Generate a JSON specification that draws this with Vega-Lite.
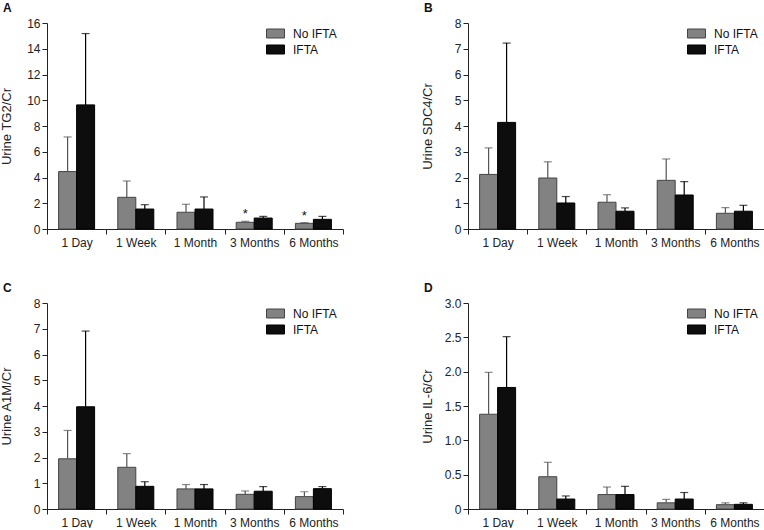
{
  "$schema": "https://vega.github.io/schema/vega-lite/v6.json",
  "padding": {"left": 0, "top": 2, "right": 0, "bottom": 0},
  "background": "white",
  "config": {
    "font": "Liberation Sans",
    "view": {"stroke": null},
    "axis": {"grid": false, "domainColor": "#222", "tickColor": "#222", "labelColor": "#222", "titleColor": "#222", "labelFont": "Liberation Sans", "titleFont": "Liberation Sans", "labelFontSize": 12, "titleFontSize": 13, "titleFontWeight": "normal"},
    "axisX": {"tickBand": "extent", "tickSize": 5, "labelPadding": 3, "labelAngle": 0, "title": null},
    "axisY": {"tickSize": 5, "labelPadding": 2, "titleX": -34},
    "legend": {"orient": "none", "legendX": 219, "legendY": 1, "title": null, "labelFontSize": 12, "labelColor": "#111", "symbolType": "M-1,-0.5H1V0.5H-1Z", "symbolSize": 324, "symbolStrokeWidth": 1, "labelOffset": 8, "rowPadding": -3, "padding": 0},
    "title": {"anchor": "start", "frame": "group", "dx": -44, "fontSize": 12, "fontWeight": "bold", "baseline": "top", "offset": 2, "color": "#111"}
  },
  "datasets": {
    "A": [
      {"time": "1 Day", "group": "No IFTA", "mean": 4.46, "upper": 7.15, "star": ""},
      {"time": "1 Day", "group": "IFTA", "mean": 9.64, "upper": 15.18, "star": ""},
      {"time": "1 Week", "group": "No IFTA", "mean": 2.46, "upper": 3.73, "star": ""},
      {"time": "1 Week", "group": "IFTA", "mean": 1.55, "upper": 1.89, "star": ""},
      {"time": "1 Month", "group": "No IFTA", "mean": 1.30, "upper": 1.92, "star": ""},
      {"time": "1 Month", "group": "IFTA", "mean": 1.55, "upper": 2.49, "star": ""},
      {"time": "3 Months", "group": "No IFTA", "mean": 0.52, "upper": 0.60, "star": "*"},
      {"time": "3 Months", "group": "IFTA", "mean": 0.85, "upper": 0.98, "star": ""},
      {"time": "6 Months", "group": "No IFTA", "mean": 0.44, "upper": 0.49, "star": "*"},
      {"time": "6 Months", "group": "IFTA", "mean": 0.75, "upper": 0.98, "star": ""}
    ],
    "B": [
      {"time": "1 Day", "group": "No IFTA", "mean": 2.12, "upper": 3.15},
      {"time": "1 Day", "group": "IFTA", "mean": 4.14, "upper": 7.22},
      {"time": "1 Week", "group": "No IFTA", "mean": 1.98, "upper": 2.61},
      {"time": "1 Week", "group": "IFTA", "mean": 1.01, "upper": 1.26},
      {"time": "1 Month", "group": "No IFTA", "mean": 1.04, "upper": 1.33},
      {"time": "1 Month", "group": "IFTA", "mean": 0.69, "upper": 0.82},
      {"time": "3 Months", "group": "No IFTA", "mean": 1.89, "upper": 2.72},
      {"time": "3 Months", "group": "IFTA", "mean": 1.32, "upper": 1.84},
      {"time": "6 Months", "group": "No IFTA", "mean": 0.61, "upper": 0.83},
      {"time": "6 Months", "group": "IFTA", "mean": 0.69, "upper": 0.92}
    ],
    "C": [
      {"time": "1 Day", "group": "No IFTA", "mean": 1.95, "upper": 3.05},
      {"time": "1 Day", "group": "IFTA", "mean": 3.97, "upper": 6.91},
      {"time": "1 Week", "group": "No IFTA", "mean": 1.62, "upper": 2.15},
      {"time": "1 Week", "group": "IFTA", "mean": 0.88, "upper": 1.06},
      {"time": "1 Month", "group": "No IFTA", "mean": 0.78, "upper": 0.95},
      {"time": "1 Month", "group": "IFTA", "mean": 0.78, "upper": 0.95},
      {"time": "3 Months", "group": "No IFTA", "mean": 0.57, "upper": 0.70},
      {"time": "3 Months", "group": "IFTA", "mean": 0.69, "upper": 0.87},
      {"time": "6 Months", "group": "No IFTA", "mean": 0.48, "upper": 0.67},
      {"time": "6 Months", "group": "IFTA", "mean": 0.79, "upper": 0.87}
    ],
    "D": [
      {"time": "1 Day", "group": "No IFTA", "mean": 1.38, "upper": 1.99},
      {"time": "1 Day", "group": "IFTA", "mean": 1.77, "upper": 2.51},
      {"time": "1 Week", "group": "No IFTA", "mean": 0.47, "upper": 0.68},
      {"time": "1 Week", "group": "IFTA", "mean": 0.145, "upper": 0.19},
      {"time": "1 Month", "group": "No IFTA", "mean": 0.21, "upper": 0.32},
      {"time": "1 Month", "group": "IFTA", "mean": 0.21, "upper": 0.33},
      {"time": "3 Months", "group": "No IFTA", "mean": 0.09, "upper": 0.14},
      {"time": "3 Months", "group": "IFTA", "mean": 0.145, "upper": 0.24},
      {"time": "6 Months", "group": "No IFTA", "mean": 0.063, "upper": 0.09},
      {"time": "6 Months", "group": "IFTA", "mean": 0.068, "upper": 0.09}
    ]
  },
  "columns": 2,
  "bounds": "flush",
  "spacing": {"column": 125, "row": 74},
  "resolve": {"legend": {"fill": "independent", "stroke": "independent"}, "scale": {"y": "independent"}},
  "concat": [
    {
      "data": {"name": "A"},
      "title": {"text": "A"},
      "width": 296, "height": 206,
      "encoding": {
        "x": {"field": "time", "type": "nominal", "sort": ["1 Day", "1 Week", "1 Month", "3 Months", "6 Months"], "scale": {"paddingInner": 0, "paddingOuter": 0}},
        "xOffset": {"field": "group", "type": "nominal", "sort": ["No IFTA", "IFTA"], "scale": {"paddingInner": 0, "paddingOuter": 0.644}}
      },
      "layer": [
        {"mark": {"type": "bar", "strokeWidth": 1}, "encoding": {"y": {"field": "mean", "type": "quantitative", "scale": {"domain": [0, 16]}, "axis": {"values": [0, 2, 4, 6, 8, 10, 12, 14, 16], "title": "Urine TG2/Cr"}}, "fill": {"field": "group", "type": "nominal", "sort": ["No IFTA", "IFTA"], "scale": {"domain": ["No IFTA", "IFTA"], "range": ["#828282", "#0d0d0d"]}}, "stroke": {"field": "group", "type": "nominal", "sort": ["No IFTA", "IFTA"], "scale": {"domain": ["No IFTA", "IFTA"], "range": ["#444444", "#000000"]}}}},
        {"mark": {"type": "rule", "strokeWidth": 1.2}, "encoding": {"y": {"field": "mean", "type": "quantitative", "axis": {"values": [0, 2, 4, 6, 8, 10, 12, 14, 16], "title": "Urine TG2/Cr"}}, "y2": {"field": "upper"}, "color": {"field": "group", "type": "nominal", "scale": {"domain": ["No IFTA", "IFTA"], "range": ["#555555", "#000000"]}, "legend": null}}},
        {"mark": {"type": "tick", "size": 8, "thickness": 1.2}, "encoding": {"y": {"field": "upper", "type": "quantitative", "axis": {"values": [0, 2, 4, 6, 8, 10, 12, 14, 16], "title": "Urine TG2/Cr"}}, "color": {"field": "group", "type": "nominal", "legend": null}}},
        {"mark": {"type": "text", "dy": -3, "baseline": "alphabetic", "fontSize": 13, "fill": "#111"}, "encoding": {"y": {"field": "upper", "type": "quantitative", "axis": {"values": [0, 2, 4, 6, 8, 10, 12, 14, 16], "title": "Urine TG2/Cr"}}, "text": {"field": "star"}}}
      ]
    },
    {
      "data": {"name": "B"},
      "title": {"text": "B"},
      "width": 296, "height": 206,
      "encoding": {
        "x": {"field": "time", "type": "nominal", "sort": ["1 Day", "1 Week", "1 Month", "3 Months", "6 Months"], "scale": {"paddingInner": 0, "paddingOuter": 0}},
        "xOffset": {"field": "group", "type": "nominal", "sort": ["No IFTA", "IFTA"], "scale": {"paddingInner": 0, "paddingOuter": 0.644}}
      },
      "layer": [
        {"mark": {"type": "bar", "strokeWidth": 1}, "encoding": {"y": {"field": "mean", "type": "quantitative", "scale": {"domain": [0, 8]}, "axis": {"values": [0, 1, 2, 3, 4, 5, 6, 7, 8], "title": "Urine SDC4/Cr"}}, "fill": {"field": "group", "type": "nominal", "sort": ["No IFTA", "IFTA"], "scale": {"domain": ["No IFTA", "IFTA"], "range": ["#828282", "#0d0d0d"]}}, "stroke": {"field": "group", "type": "nominal", "sort": ["No IFTA", "IFTA"], "scale": {"domain": ["No IFTA", "IFTA"], "range": ["#444444", "#000000"]}}}},
        {"mark": {"type": "rule", "strokeWidth": 1.2}, "encoding": {"y": {"field": "mean", "type": "quantitative", "axis": {"values": [0, 1, 2, 3, 4, 5, 6, 7, 8], "title": "Urine SDC4/Cr"}}, "y2": {"field": "upper"}, "color": {"field": "group", "type": "nominal", "scale": {"domain": ["No IFTA", "IFTA"], "range": ["#555555", "#000000"]}, "legend": null}}},
        {"mark": {"type": "tick", "size": 8, "thickness": 1.2}, "encoding": {"y": {"field": "upper", "type": "quantitative", "axis": {"values": [0, 1, 2, 3, 4, 5, 6, 7, 8], "title": "Urine SDC4/Cr"}}, "color": {"field": "group", "type": "nominal", "legend": null}}}
      ]
    },
    {
      "data": {"name": "C"},
      "title": {"text": "C"},
      "width": 296, "height": 206,
      "encoding": {
        "x": {"field": "time", "type": "nominal", "sort": ["1 Day", "1 Week", "1 Month", "3 Months", "6 Months"], "scale": {"paddingInner": 0, "paddingOuter": 0}},
        "xOffset": {"field": "group", "type": "nominal", "sort": ["No IFTA", "IFTA"], "scale": {"paddingInner": 0, "paddingOuter": 0.644}}
      },
      "layer": [
        {"mark": {"type": "bar", "strokeWidth": 1}, "encoding": {"y": {"field": "mean", "type": "quantitative", "scale": {"domain": [0, 8]}, "axis": {"values": [0, 1, 2, 3, 4, 5, 6, 7, 8], "title": "Urine A1M/Cr"}}, "fill": {"field": "group", "type": "nominal", "sort": ["No IFTA", "IFTA"], "scale": {"domain": ["No IFTA", "IFTA"], "range": ["#828282", "#0d0d0d"]}}, "stroke": {"field": "group", "type": "nominal", "sort": ["No IFTA", "IFTA"], "scale": {"domain": ["No IFTA", "IFTA"], "range": ["#444444", "#000000"]}}}},
        {"mark": {"type": "rule", "strokeWidth": 1.2}, "encoding": {"y": {"field": "mean", "type": "quantitative", "axis": {"values": [0, 1, 2, 3, 4, 5, 6, 7, 8], "title": "Urine A1M/Cr"}}, "y2": {"field": "upper"}, "color": {"field": "group", "type": "nominal", "scale": {"domain": ["No IFTA", "IFTA"], "range": ["#555555", "#000000"]}, "legend": null}}},
        {"mark": {"type": "tick", "size": 8, "thickness": 1.2}, "encoding": {"y": {"field": "upper", "type": "quantitative", "axis": {"values": [0, 1, 2, 3, 4, 5, 6, 7, 8], "title": "Urine A1M/Cr"}}, "color": {"field": "group", "type": "nominal", "legend": null}}}
      ]
    },
    {
      "data": {"name": "D"},
      "title": {"text": "D"},
      "width": 296, "height": 206,
      "encoding": {
        "x": {"field": "time", "type": "nominal", "sort": ["1 Day", "1 Week", "1 Month", "3 Months", "6 Months"], "scale": {"paddingInner": 0, "paddingOuter": 0}},
        "xOffset": {"field": "group", "type": "nominal", "sort": ["No IFTA", "IFTA"], "scale": {"paddingInner": 0, "paddingOuter": 0.644}}
      },
      "layer": [
        {"mark": {"type": "bar", "strokeWidth": 1}, "encoding": {"y": {"field": "mean", "type": "quantitative", "scale": {"domain": [0, 3]}, "axis": {"values": [0, 0.5, 1, 1.5, 2, 2.5, 3], "labelExpr": "datum.value == 0 ? '0' : format(datum.value, '.1f')", "title": "Urine IL-6/Cr"}}, "fill": {"field": "group", "type": "nominal", "sort": ["No IFTA", "IFTA"], "scale": {"domain": ["No IFTA", "IFTA"], "range": ["#828282", "#0d0d0d"]}}, "stroke": {"field": "group", "type": "nominal", "sort": ["No IFTA", "IFTA"], "scale": {"domain": ["No IFTA", "IFTA"], "range": ["#444444", "#000000"]}}}},
        {"mark": {"type": "rule", "strokeWidth": 1.2}, "encoding": {"y": {"field": "mean", "type": "quantitative", "axis": {"values": [0, 0.5, 1, 1.5, 2, 2.5, 3], "labelExpr": "datum.value == 0 ? '0' : format(datum.value, '.1f')", "title": "Urine IL-6/Cr"}}, "y2": {"field": "upper"}, "color": {"field": "group", "type": "nominal", "scale": {"domain": ["No IFTA", "IFTA"], "range": ["#555555", "#000000"]}, "legend": null}}},
        {"mark": {"type": "tick", "size": 8, "thickness": 1.2}, "encoding": {"y": {"field": "upper", "type": "quantitative", "axis": {"values": [0, 0.5, 1, 1.5, 2, 2.5, 3], "labelExpr": "datum.value == 0 ? '0' : format(datum.value, '.1f')", "title": "Urine IL-6/Cr"}}, "color": {"field": "group", "type": "nominal", "legend": null}}}
      ]
    }
  ]
}
